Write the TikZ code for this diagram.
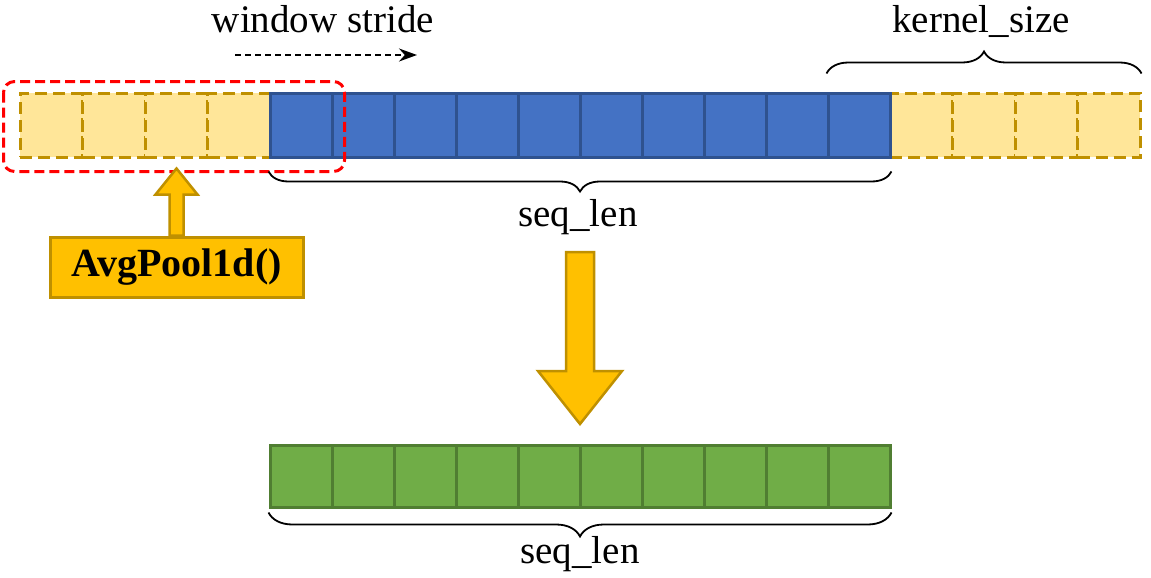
\documentclass[tikz,border=0pt]{standalone}
\usepackage{fontspec}
\setmainfont{Liberation Serif}
\usepackage{xcolor}
\usetikzlibrary{arrows.meta,positioning,decorations.pathreplacing}

\definecolor{padfill}{HTML}{FFE699}
\definecolor{padline}{HTML}{BF9000}
\definecolor{seqfill}{HTML}{4472C4}
\definecolor{seqline}{HTML}{2F528F}
\definecolor{outfill}{HTML}{70AD47}
\definecolor{outline}{HTML}{507E32}
\definecolor{poolfill}{HTML}{FFC000}

\tikzset{
  padcell/.style={draw=padline,fill=padfill,line width=3pt,dash pattern=on 12pt off 6pt,
    minimum width=62.5pt,minimum height=64pt,inner sep=0pt},
  seqcell/.style={draw=seqline,fill=seqfill,line width=3pt,
    minimum width=62pt,minimum height=64pt,inner sep=0pt},
  outcell/.style={draw=outline,fill=outfill,line width=3pt,
    minimum width=62pt,minimum height=62pt,inner sep=0pt},
  poolbox/.style={draw=padline,fill=poolfill,line width=3pt,
    minimum width=253pt,minimum height=60pt,inner sep=0pt,font=\fontsize{40}{48}\selectfont\bfseries},
  blockarrow/.style={draw=padline,fill=poolfill,line width=2.5pt,line join=miter},
  lbl/.style={inner sep=0pt,anchor=base},
  bracebelow/.style={decorate,line width=1.8pt,decoration={brace,amplitude=20pt,raise=13pt}},
}

\begin{document}
\begin{tikzpicture}[x=1pt,y=-1pt,>=Stealth,font=\fontsize{39}{47}\selectfont]
\useasboundingbox (0,0) rectangle (1151,578);

% input sequence with padding on both ends
\foreach \i in {1,...,4}{\node[padcell] (l\i) at ({20+62.5*(\i-0.5)},125) {};}
\foreach \i in {1,...,4}{\node[padcell] (r\i) at ({890+62.5*(\i-0.5)},125) {};}
\foreach \i in {1,...,10}{\node[seqcell] (b\i) at ({270+62*(\i-0.5)},125) {};}

% output sequence
\foreach \i in {1,...,10}{\node[outcell] (g\i) at ({270+62*(\i-0.5)},476) {};}

% pooling window
\draw[red,line width=3pt,dash pattern=on 10pt off 5pt,rounded corners=11pt]
  ([shift={(-15,-10)}]l1.north west) rectangle ([shift={(11,13)}]b1.south east);

\node[lbl] (ws) at (323,33) {window stride};
\coordinate (wsA) at (235,55);
\coordinate (wsB) at (417,55);
\draw[-{Stealth[length=18pt,width=13pt]},dash pattern=on 6pt off 4pt,line width=1.6pt] (wsA) -- (wsB);

% kernel_size
\draw[decorate,line width=1.8pt,decoration={brace,amplitude=22pt,raise=18pt}]
  (b10.north west) -- (r4.north east);
\node[lbl] (ks) at (981,33) {kernel\_size};

% seq_len (input)
\draw[bracebelow] (b10.south east) -- (b1.south west);
\node[lbl] (seqA) at (578,226) {seq\_len};

% seq_len (output)
\draw[bracebelow,decoration={brace,amplitude=24pt,raise=4pt}] (g10.south east) -- (g1.south west);
\node[lbl] (seqB) at (580,563) {seq\_len};

% AvgPool1d
\node[poolbox] (pool) at (176.5,267) {AvgPool1d()};
\draw[blockarrow] ([xshift=-7pt]pool.north) -- ++(0,-41) -- ++(-14,0) -- ++(21,-26)
  -- ++(21,26) -- ++(-14,0) -- ++(0,41) -- cycle;

% big arrow down
\coordinate (arrTop) at (580,252);
\draw[blockarrow] ([xshift=-14pt]arrTop) -- ++(0,119) -- ++(-28,0) -- ++(42,53)
  -- ++(42,-53) -- ++(-28,0) -- ++(0,-119) -- cycle;
\end{tikzpicture}
\end{document}
